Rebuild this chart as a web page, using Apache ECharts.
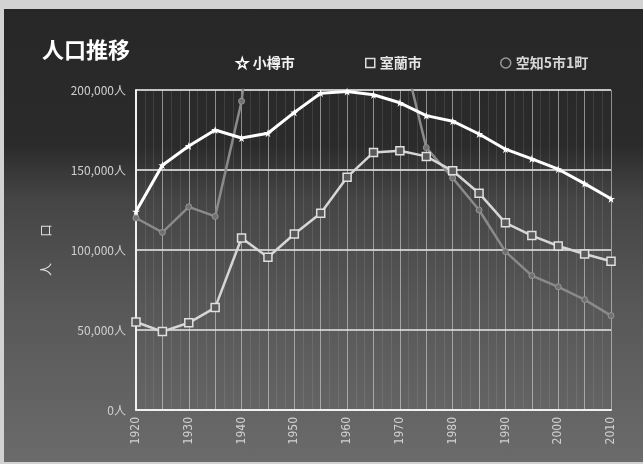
<!DOCTYPE html>
<html>
<head>
<meta charset="utf-8">
<script src="https://cdn.jsdelivr.net/npm/echarts@6/dist/echarts.min.js"></script>
<style>
html,body{margin:0;padding:0;width:643px;height:464px;background:#d2d2d2;overflow:hidden;}
#chart{position:absolute;left:4px;top:9px;width:639px;height:453px;
background:linear-gradient(to bottom,#272727 0%,#2b2b2b 30%,#454545 42%,#575757 65%,#6b6b6b 100%);}
</style>
</head>
<body>
<div id="chart"></div>
<script>
var years = [1920,1925,1930,1935,1940,1945,1950,1955,1960,1965,1970,1975,1980,1985,1990,1995,2000,2005,2010];
var otaru = [124000,153000,165000,175000,170000,173000,186000,198000,199000,197000,192000,184000,180500,172500,163000,157000,150500,141500,132000];
var muroran = [55000,49000,54500,64000,107500,95500,110000,123000,145500,161000,162000,158500,149500,135500,117000,109000,102500,97500,93000];
var sorachi = [120000,111000,127000,121000,193000,330000,370000,390000,400000,340000,232000,164000,145000,125000,99000,84000,77000,69000,59000];
var seriesNames = ['小樽市','室蘭市','空知5市1町'];
var yTicks = [0,50000,100000,150000,200000];

function pairs(vals){ return years.map(function(y,i){ return [y, vals[i]]; }); }
function fmt(v){ return String(v).replace(/\B(?=(\d{3})+(?!\d))/g, ',') + '人'; }

var star = 'path://M50,0 L61,35 L98,35 L68,57 L79,91 L50,70 L21,91 L32,57 L2,35 L39,35 Z';
var chart = echarts.init(document.getElementById('chart'));
var legendText = {fontSize:14, fontWeight:'bold', fontFamily:'Noto Sans CJK JP'};
chart.setOption({
  backgroundColor:'transparent',
  animation:false,
  title:{text:'人口推移', left:33, top:25, textStyle:{color:'#ffffff', fontSize:22, fontWeight:'bold', fontFamily:'Noto Sans CJK JP'}},
  legend:[
    {left:227, top:42, itemWidth:11, itemHeight:11, itemGap:6,
     data:[{name:seriesNames[0], icon:star, itemStyle:{color:'transparent', borderColor:'#ffffff', borderWidth:1.5}}],
     textStyle:Object.assign({color:'#f2f2f2'}, legendText)},
    {left:356, top:42, itemWidth:9, itemHeight:9, itemGap:6,
     data:[{name:seriesNames[1], icon:'rect', itemStyle:{color:'transparent', borderColor:'#dddddd', borderWidth:1.5}}],
     textStyle:Object.assign({color:'#e6e6e6'}, legendText)},
    {left:491, top:42, itemWidth:10, itemHeight:10, itemGap:6,
     data:[{name:seriesNames[2], icon:'circle', itemStyle:{color:'transparent', borderColor:'#9a9a9a', borderWidth:1.5}}],
     textStyle:Object.assign({color:'#d8d8d8'}, legendText)}
  ],
  grid:{left:132, right:32, top:81, bottom:52},
  xAxis:{
    type:'value', min:1920, max:2010, interval:5,
    axisLine:{show:true, lineStyle:{color:'#f0f0f0', width:2}},
    axisTick:{show:false},
    axisLabel:{rotate:90, color:'#d0d0d0', fontSize:12, margin:7, fontFamily:'DejaVu Sans Condensed',
      formatter:function(v){ return v % 10 === 0 ? String(v) : ''; }},
    splitLine:{show:true, lineStyle:{color:'rgba(225,225,225,0.55)', width:1}},
    minorTick:{show:false, splitNumber:3},
    minorSplitLine:{show:true, lineStyle:{color:'rgba(200,200,200,0.14)', width:1}}
  },
  yAxis:{
    type:'value', min:yTicks[0], max:yTicks[yTicks.length-1], interval:yTicks[1]-yTicks[0],
    name:'人　　口', nameLocation:'middle', nameGap:84, nameRotate:90,
    nameTextStyle:{color:'#dddddd', fontSize:13, fontFamily:'Noto Sans CJK JP'},
    axisLine:{show:true, lineStyle:{color:'#f0f0f0', width:2}},
    axisTick:{show:false},
    axisLabel:{color:'#d0d0d0', fontSize:12, margin:10, fontFamily:'Noto Sans CJK JP', formatter:fmt},
    splitLine:{show:true, lineStyle:{color:'#c4c4c4', width:2}}
  },
  series:[
    {name:seriesNames[2], type:'line', data:pairs(sorachi), clip:true,
     symbol:'circle', symbolSize:6,
     lineStyle:{color:'#8a8a8a', width:2.5},
     itemStyle:{color:'#707070', borderColor:'#969696', borderWidth:1}, z:2},
    {name:seriesNames[1], type:'line', data:pairs(muroran), clip:true,
     symbol:'rect', symbolSize:8,
     lineStyle:{color:'#d6d6d6', width:2.5},
     itemStyle:{color:'#5a5a5a', borderColor:'#e0e0e0', borderWidth:1.5}, z:3},
    {name:seriesNames[0], type:'line', data:pairs(otaru), clip:true,
     symbol:star, symbolSize:8,
     lineStyle:{color:'#ffffff', width:3},
     itemStyle:{color:'#ffffff'}, z:4}
  ]
});
</script>
</body>
</html>
